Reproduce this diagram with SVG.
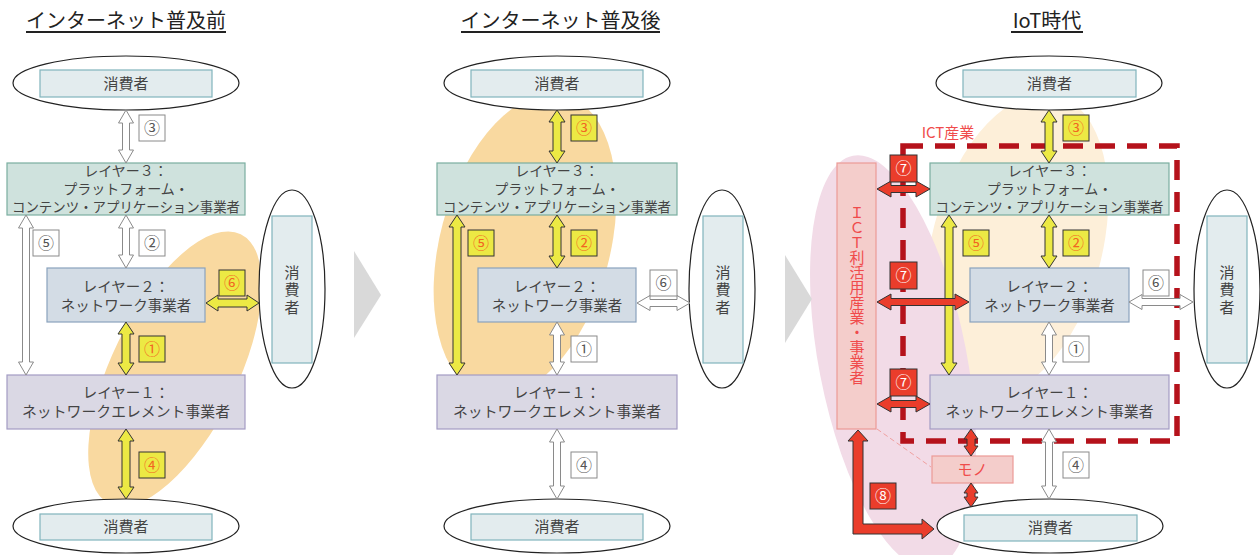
<svg xmlns="http://www.w3.org/2000/svg" width="1260" height="555" viewBox="0 0 1260 555">
<style>
text{font-family:"Noto Sans CJK JP","Noto Sans",sans-serif;}
.t{font-size:15px;fill:#444;text-anchor:middle;}
.lt{font-size:14.5px;fill:#444;text-anchor:middle;}
.l3t{font-size:14px;fill:#444;text-anchor:middle;}
.v{font-size:15px;fill:#444;text-anchor:middle;writing-mode:vertical-rl;letter-spacing:2.5px;}
.title{font-size:20px;fill:#222;text-anchor:middle;}
.ul{stroke:#222;stroke-width:2;}
.cons{fill:#e3ecee;stroke:#80b4bc;stroke-width:1.2;}
.ell{fill:#fff;stroke:#222;stroke-width:1.2;}
.l3{fill:#cfe2dd;stroke:#7aaea0;stroke-width:1.2;}
.l2{fill:#d3dce5;stroke:#8aa2bd;stroke-width:1.2;}
.l1{fill:#dad8e4;stroke:#a39cc4;stroke-width:1.2;}
.aw{fill:#fff;stroke:#8a8a8a;stroke-width:1;}
.ay{fill:#ece944;stroke:#333;stroke-width:1;}
.ar{fill:#ea3d2b;stroke:#333;stroke-width:1;}
.bw{fill:#fff;stroke:#8a8a8a;stroke-width:1;}
.by{fill:#ece944;stroke:#333;stroke-width:1;}
.br{fill:#ea3d2b;stroke:#333;stroke-width:1;}
.nw{font-size:16px;fill:#555;text-anchor:middle;}
.ny{font-size:16px;fill:#f26522;text-anchor:middle;}
.nr{font-size:16px;fill:#fff;text-anchor:middle;}
.pk{fill:#f4cdcb;stroke:#eb9a96;stroke-width:1.2;}
.rt{fill:#f04b4b;text-anchor:middle;font-size:15px;}
.rv{fill:#f04b4b;text-anchor:middle;font-size:15px;writing-mode:vertical-rl;}
</style>

<!-- backgrounds -->
<g id="blobs">
<ellipse cx="175" cy="369" rx="63" ry="150" transform="rotate(26 175 369)" fill="#f9d9a0"/>
<ellipse cx="525" cy="245" rx="85" ry="155" transform="rotate(15 525 245)" fill="#f9d9a0"/>
<ellipse cx="1017" cy="245" rx="85" ry="155" transform="rotate(15 1017 245)" fill="#fdefd9"/>
<ellipse cx="893" cy="362" rx="74" ry="210" transform="rotate(-11 893 362)" fill="#f2dbe7"/>
</g>

<g id="chevrons">
<polygon points="354,251 381,295 354,338" fill="#d9d9d9"/>
<polygon points="785,255 812,299 785,343" fill="#d9d9d9"/>
</g>

<!-- titles -->
<g id="titles">
<text class="title" x="126" y="28">インターネット普及前</text>
<line class="ul" x1="26" y1="32" x2="226" y2="32"/>
<text class="title" x="560.5" y="28">インターネット普及後</text>
<line class="ul" x1="461" y1="32" x2="660" y2="32"/>
<text class="title" x="1047" y="28">IoT時代</text>
<line class="ul" x1="1011" y1="32" x2="1083" y2="32"/>
</g>

<!-- ===== Panel 1 ===== -->
<g id="p1-consumer-top">
<ellipse class="ell" cx="126" cy="83" rx="113" ry="27"/>
<rect class="cons" x="40" y="70" width="172" height="27"/>
<text class="t" x="126" y="88.5">消費者</text>
</g>
<g id="p1-consumer-right">
<ellipse class="ell" cx="292" cy="289" rx="33" ry="99"/>
<rect class="cons" x="272" y="216" width="40" height="147"/>
<text class="v" x="292" y="291">消費者</text>
</g>
<g id="p1-consumer-bottom">
<ellipse class="ell" cx="126" cy="526" rx="113" ry="27"/>
<rect class="cons" x="40" y="514" width="172" height="26"/>
<text class="t" x="126" y="532">消費者</text>
</g>
<g id="p1-layer3">
<rect class="l3" x="7" y="163" width="238" height="52"/>
<text class="l3t"><tspan x="126" y="176">レイヤー３：</tspan><tspan x="126" y="194">プラットフォーム・</tspan><tspan x="126" y="212" textLength="228" lengthAdjust="spacingAndGlyphs">コンテンツ・アプリケーション事業者</tspan></text>
</g>
<g id="p1-layer2">
<rect class="l2" x="47" y="268" width="158" height="54"/>
<text class="lt"><tspan x="126" y="292">レイヤー２：</tspan><tspan x="126" y="310.5">ネットワーク事業者</tspan></text>
</g>
<g id="p1-layer1">
<rect class="l1" x="7" y="375" width="238" height="54"/>
<text class="lt"><tspan x="126" y="398">レイヤー１：</tspan><tspan x="126" y="416.5" textLength="208" lengthAdjust="spacingAndGlyphs">ネットワークエレメント事業者</tspan></text>
</g>

<!-- ===== Panel 2 ===== -->
<g id="p2-consumer-top">
<ellipse class="ell" cx="557" cy="83" rx="113" ry="27"/>
<rect class="cons" x="471" y="70" width="172" height="27"/>
<text class="t" x="557" y="88.5">消費者</text>
</g>
<g id="p2-consumer-right">
<ellipse class="ell" cx="722" cy="289" rx="33" ry="99"/>
<rect class="cons" x="703" y="216" width="40" height="147"/>
<text class="v" x="723" y="291">消費者</text>
</g>
<g id="p2-consumer-bottom">
<ellipse class="ell" cx="557" cy="526" rx="113" ry="27"/>
<rect class="cons" x="471" y="514" width="172" height="26"/>
<text class="t" x="557" y="532">消費者</text>
</g>
<g id="p2-layer3">
<rect class="l3" x="437" y="163" width="240" height="52"/>
<text class="l3t"><tspan x="557" y="176">レイヤー３：</tspan><tspan x="557" y="194">プラットフォーム・</tspan><tspan x="557" y="212" textLength="228" lengthAdjust="spacingAndGlyphs">コンテンツ・アプリケーション事業者</tspan></text>
</g>
<g id="p2-layer2">
<rect class="l2" x="478" y="268" width="158" height="54"/>
<text class="lt"><tspan x="557" y="292">レイヤー２：</tspan><tspan x="557" y="310.5">ネットワーク事業者</tspan></text>
</g>
<g id="p2-layer1">
<rect class="l1" x="437" y="375" width="240" height="54"/>
<text class="lt"><tspan x="557" y="398">レイヤー１：</tspan><tspan x="557" y="416.5" textLength="208" lengthAdjust="spacingAndGlyphs">ネットワークエレメント事業者</tspan></text>
</g>

<!-- ===== Panel 3 ===== -->
<g id="p3-ict-label">
<text x="948" y="138" fill="#f04b4b" font-size="15" text-anchor="middle">ICT産業</text>
</g>
<g id="p3-consumer-top">
<ellipse class="ell" cx="1049" cy="83" rx="113" ry="27"/>
<rect class="cons" x="963" y="70" width="173" height="27"/>
<text class="t" x="1049.5" y="88.5">消費者</text>
</g>
<g id="p3-consumer-right">
<ellipse class="ell" cx="1227" cy="289" rx="33" ry="99"/>
<rect class="cons" x="1207" y="216" width="40" height="147"/>
<text class="v" x="1227" y="291">消費者</text>
</g>
<g id="p3-consumer-bottom">
<ellipse class="ell" cx="1050" cy="526" rx="113" ry="27"/>
<rect class="cons" x="964" y="515" width="173" height="26"/>
<text class="t" x="1050.5" y="533">消費者</text>
</g>
<g id="p3-ict-user">
<rect class="pk" x="837" y="163" width="39" height="266"/>
<text class="rv" x="857" y="295">ＩＣＴ利活用産業・事業者</text>
</g>
<g id="p3-dashed-ict">
<rect x="903" y="146" width="274" height="295" fill="none" stroke="#b5121b" stroke-width="5.5" stroke-dasharray="20 12"/>
</g>
<g id="p3-layer3">
<rect class="l3" x="930" y="163" width="239" height="52"/>
<text class="l3t"><tspan x="1049.5" y="176">レイヤー３：</tspan><tspan x="1049.5" y="194">プラットフォーム・</tspan><tspan x="1049.5" y="212" textLength="228" lengthAdjust="spacingAndGlyphs">コンテンツ・アプリケーション事業者</tspan></text>
</g>
<g id="p3-layer2">
<rect class="l2" x="970" y="268" width="159" height="54"/>
<text class="lt"><tspan x="1049.5" y="292">レイヤー２：</tspan><tspan x="1049.5" y="310.5">ネットワーク事業者</tspan></text>
</g>
<g id="p3-layer1">
<rect class="l1" x="930" y="375" width="239" height="54"/>
<text class="lt"><tspan x="1049.5" y="398">レイヤー１：</tspan><tspan x="1049.5" y="416.5" textLength="208" lengthAdjust="spacingAndGlyphs">ネットワークエレメント事業者</tspan></text>
</g>
<g id="p3-mono">
<line x1="877" y1="429" x2="931" y2="467" stroke="#f0a0a0" stroke-width="1" stroke-dasharray="5 3"/>
<rect class="pk" x="932" y="456" width="81" height="27"/>
<text class="rt" x="972.5" y="475">モノ</text>
</g>

<!-- ===== connectors ===== -->
<g id="connectors">
<!-- panel 1 -->
<polygon class="aw" points="126,110 133.5,123 129.5,123 129.5,150 133.5,150 126,163 118.5,150 122.5,150 122.5,123 118.5,123"/>
<polygon class="aw" points="26,215 33.5,228 29.5,228 29.5,362 33.5,362 26,375 18.5,362 22.5,362 22.5,228 18.5,228"/>
<polygon class="aw" points="126,215 133.5,228 129.5,228 129.5,255 133.5,255 126,268 118.5,255 122.5,255 122.5,228 118.5,228"/>
<polygon class="ay" points="126,322 134,334 130,334 130,363 134,363 126,375 118,363 122,363 122,334 118,334"/>
<polygon class="ay" points="126,429 134,441 130,441 130,487 134,487 126,499 118,487 122,487 122,441 118,441"/>
<polygon class="ay" points="206,303 218,295 218,299 247,299 247,295 259,303 247,311 247,307 218,307 218,311"/>
<!-- panel 2 -->
<polygon class="ay" points="557,110 565,122 561,122 561,151 565,151 557,163 549,151 553,151 553,122 549,122"/>
<polygon class="ay" points="457,215 465,227 461,227 461,363 465,363 457,375 449,363 453,363 453,227 449,227"/>
<polygon class="ay" points="557,215 565,227 561,227 561,256 565,256 557,268 549,256 553,256 553,227 549,227"/>
<polygon class="aw" points="637,303 650,295.5 650,299.5 677,299.5 677,295.5 690,303 677,310.5 677,306.5 650,306.5 650,310.5"/>
<polygon class="aw" points="557,322 564.5,335 560.5,335 560.5,362 564.5,362 557,375 549.5,362 553.5,362 553.5,335 549.5,335"/>
<polygon class="aw" points="557,429 564.5,442 560.5,442 560.5,486 564.5,486 557,499 549.5,486 553.5,486 553.5,442 549.5,442"/>
<!-- panel 3 -->
<polygon class="ay" points="1049,110 1057,122 1053,122 1053,151 1057,151 1049,163 1041,151 1045,151 1045,122 1041,122"/>
<polygon class="ay" points="949,215 957,227 953,227 953,363 957,363 949,375 941,363 945,363 945,227 941,227"/>
<polygon class="ay" points="1049,215 1057,227 1053,227 1053,256 1057,256 1049,268 1041,256 1045,256 1045,227 1041,227"/>
<polygon class="aw" points="1129,302 1142,294.5 1142,298.5 1180,298.5 1180,294.5 1193,302 1180,309.5 1180,305.5 1142,305.5 1142,309.5"/>
<polygon class="aw" points="1049,322 1056.5,335 1052.5,335 1052.5,362 1056.5,362 1049,375 1041.5,362 1045.5,362 1045.5,335 1041.5,335"/>
<polygon class="aw" points="1049,429 1056.5,442 1052.5,442 1052.5,486 1056.5,486 1049,499 1041.5,486 1045.5,486 1045.5,442 1041.5,442"/>
<polygon class="ar" points="877,189 891,181 891,185.5 916,185.5 916,181 930,189 916,197 916,192.5 891,192.5 891,197"/>
<polygon class="ar" points="877,302 891,294 891,298.5 955,298.5 955,294 969,302 955,310 955,305.5 891,305.5 891,310"/>
<polygon class="ar" points="877,404 891,396 891,400.5 916,400.5 916,396 930,404 916,412 916,407.5 891,407.5 891,412"/>
<polygon class="ar" points="971,429 978,439 975,439 975,446 978,446 971,456 964,446 967,446 967,439 964,439"/>
<polygon class="ar" points="971,483 978,493 975,493 975,497 978,497 971,507 964,497 967,497 967,493 964,493"/>
<polygon class="ar" points="858,430 868,441 863,441 863,524 922,524 922,519 934,529 922,539 922,534 853,534 853,441 848,441"/>
</g>

<!-- ===== labels ===== -->
<g id="labels">
<rect class="bw" x="139" y="115" width="26" height="26"/><text class="nw" x="152" y="133.5">③</text>
<rect class="bw" x="33" y="230" width="26" height="26"/><text class="nw" x="46" y="248.5">⑤</text>
<rect class="bw" x="139" y="230" width="26" height="26"/><text class="nw" x="152" y="248.5">②</text>
<rect class="by" x="219" y="270" width="26" height="26"/><text class="ny" x="232" y="288.5">⑥</text>
<rect class="by" x="139" y="336" width="26" height="26"/><text class="ny" x="152" y="354.5">①</text>
<rect class="by" x="139" y="452" width="26" height="26"/><text class="ny" x="152" y="470.5">④</text>

<rect class="by" x="571" y="115" width="26" height="26"/><text class="ny" x="584" y="133.5">③</text>
<rect class="by" x="468" y="230" width="26" height="26"/><text class="ny" x="481" y="248.5">⑤</text>
<rect class="by" x="571" y="230" width="26" height="26"/><text class="ny" x="584" y="248.5">②</text>
<rect class="bw" x="650" y="270" width="27" height="26"/><text class="nw" x="663.5" y="288.5">⑥</text>
<rect class="bw" x="571" y="336" width="26" height="26"/><text class="nw" x="584" y="354.5">①</text>
<rect class="bw" x="571" y="452" width="26" height="26"/><text class="nw" x="584" y="470.5">④</text>

<rect class="by" x="1063" y="115" width="26" height="26"/><text class="ny" x="1076" y="133.5">③</text>
<rect class="by" x="963" y="230" width="26" height="26"/><text class="ny" x="976" y="248.5">⑤</text>
<rect class="by" x="1063" y="230" width="26" height="26"/><text class="ny" x="1076" y="248.5">②</text>
<rect class="bw" x="1143" y="270" width="26" height="26"/><text class="nw" x="1156" y="288.5">⑥</text>
<rect class="bw" x="1063" y="336" width="26" height="26"/><text class="nw" x="1076" y="354.5">①</text>
<rect class="bw" x="1063" y="452" width="26" height="26"/><text class="nw" x="1076" y="470.5">④</text>
<rect class="br" x="890" y="155" width="27" height="27"/><text class="nr" x="903.5" y="174">⑦</text>
<rect class="br" x="890" y="262" width="27" height="27"/><text class="nr" x="903.5" y="281">⑦</text>
<rect class="br" x="890" y="369" width="27" height="27"/><text class="nr" x="903.5" y="388">⑦</text>
<rect class="br" x="870" y="483" width="26" height="26"/><text class="nr" x="883" y="501.5">⑧</text>
</g>
</svg>
